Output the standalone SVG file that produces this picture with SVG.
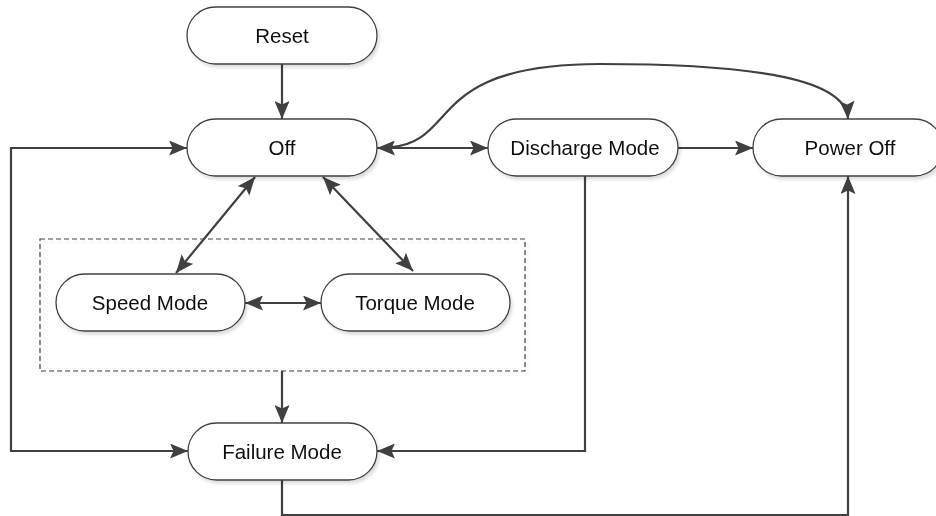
<svg xmlns="http://www.w3.org/2000/svg" width="936" height="516" viewBox="0 0 936 516">
<style>
.node rect{fill:#fff;stroke:#404040;stroke-width:1.3}
.node text{font-family:"Liberation Sans",Arial,sans-serif;font-size:20.5px;fill:#111;text-anchor:middle}
.conn path{fill:none;stroke:#404040;stroke-width:2.2}
.group{fill:none;stroke:#404040;stroke-width:1.2;stroke-dasharray:5,3}
</style>
<defs>
<filter id="sh" x="-10%" y="-20%" width="130%" height="150%">
<feDropShadow dx="2" dy="3" stdDeviation="1.5" flood-color="#000" flood-opacity="0.13"/>
</filter>
<marker id="ah" viewBox="0 0 18 15" refX="18" refY="7.5" markerWidth="18" markerHeight="15" markerUnits="userSpaceOnUse" orient="auto-start-reverse">
<path d="M0,0 L18,7.5 L0,15 L3.5,7.5 z" fill="#404040"/>
</marker>
</defs>
<rect width="936" height="516" fill="#fff"/>
<rect class="group" x="40" y="239" width="485" height="132" filter="url(#sh)"/>
<g class="conn">
<path d="M282,64 V119" marker-end="url(#ah)"/>
<path d="M377,148 H488" marker-start="url(#ah)" marker-end="url(#ah)"/>
<path d="M678,148 H753" marker-end="url(#ah)"/>
<path d="M392,147 C460,140 425,64 600,64 C760,64 846,80 848,119" marker-end="url(#ah)"/>
<path d="M255,177 L176,273" marker-start="url(#ah)" marker-end="url(#ah)"/>
<path d="M323,177 L413,271" marker-start="url(#ah)" marker-end="url(#ah)"/>
<path d="M245,303 H321" marker-start="url(#ah)" marker-end="url(#ah)"/>
<path d="M187,148 H11 V451 H188" marker-start="url(#ah)" marker-end="url(#ah)"/>
<path d="M585,176 V451 H377" marker-end="url(#ah)"/>
<path d="M282,371 V423" marker-end="url(#ah)"/>
<path d="M282,480 V515 H848 V176" marker-end="url(#ah)"/>
</g>
<g id="reset" class="node" filter="url(#sh)"><rect x="187" y="7" width="190" height="57" rx="28.5"/><text x="282" y="43">Reset</text></g>
<g id="off" class="node" filter="url(#sh)"><rect x="187" y="119" width="190" height="57" rx="28.5"/><text x="282" y="155">Off</text></g>
<g id="discharge" class="node" filter="url(#sh)"><rect x="488" y="119" width="190" height="57" rx="28.5"/><text x="585" y="155">Discharge Mode</text></g>
<g id="poweroff" class="node" filter="url(#sh)"><rect x="753" y="119" width="190" height="57" rx="28.5"/><text x="850" y="155">Power Off</text></g>
<g id="speed" class="node" filter="url(#sh)"><rect x="56" y="274" width="189" height="57" rx="28.5"/><text x="150" y="310">Speed Mode</text></g>
<g id="torque" class="node" filter="url(#sh)"><rect x="321" y="274" width="189" height="57" rx="28.5"/><text x="415" y="310">Torque Mode</text></g>
<g id="failure" class="node" filter="url(#sh)"><rect x="188" y="423" width="189" height="57" rx="28.5"/><text x="282" y="459">Failure Mode</text></g>
</svg>
